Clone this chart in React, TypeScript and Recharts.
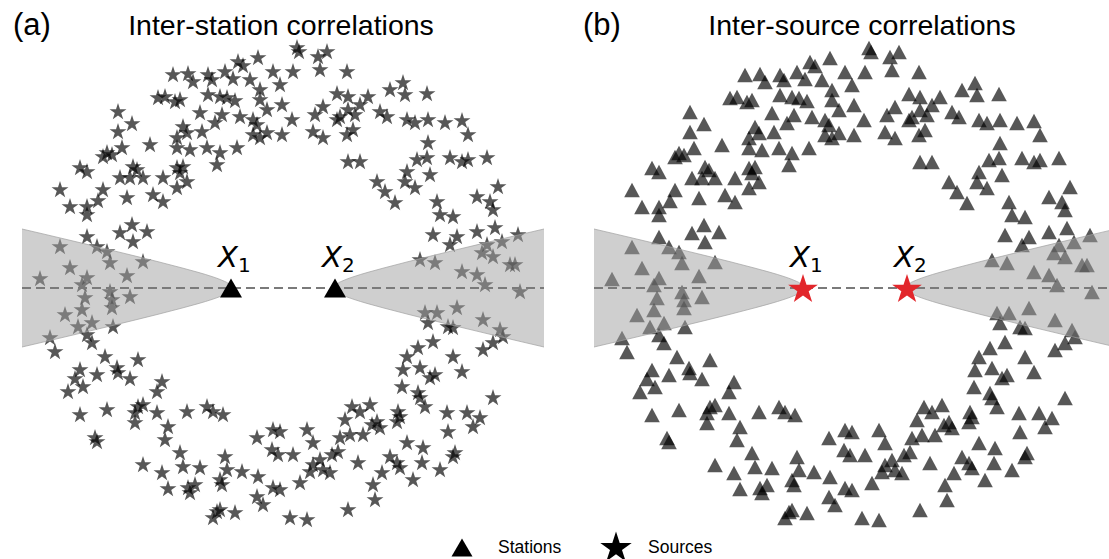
import React from "react";
import { Area, ComposedChart, ReferenceLine, Scatter, XAxis, YAxis } from "recharts";

// Receiver / source ring, split by quadrant. Units: metres from the mid-point of the
// two stations, x east, y north. Both panels share the same geometry.
const ringNW: [number, number][] = [
  [-25, 230], [-45, 226], [-40, 222], [-110, 213], [-95, 214], [-75, 213], [-58, 216],
  [-71, 208], [-50, 209], [-33, 208], [-10, 216], [-90, 206], [-3, 203], [-23, 198],
  [-75, 193], [-63, 191], [-56, 190], [-48, 187], [-125, 190], [-118, 191], [-108, 186],
  [-103, 188], [-23, 188], [-1, 183], [-16, 178], [-165, 176], [-83, 175], [-61, 173],
  [-43, 171], [-30, 168], [-151, 164], [-165, 156], [-100, 161], [-68, 165], [-81, 156],
  [-26, 163], [-30, 153], [-16, 155], [-1, 153], [-23, 150], [-106, 150], [-96, 155],
  [-133, 143], [-76, 140], [-63, 135], [-46, 140], [-106, 140], [-93, 138], [-161, 140],
  [-176, 135], [-180, 131], [-171, 133], [-66, 123], [-203, 120], [-196, 116], [-150, 121],
  [-146, 118], [-163, 110], [-153, 110], [-140, 110], [-120, 110], [-106, 120], [-100, 121],
  [-103, 115], [-96, 106], [-106, 100], [-180, 98], [-223, 98], [-130, 93], [-120, 86],
  [-156, 90], [-213, 81], [-196, 81], [-196, 73], [-185, 87], [-163, 55], [-151, 63],
  [-136, 56], [-150, 46], [-196, 51], [-223, 41], [-186, 41], [-176, 36], [-140, 26],
  [-173, 25], [-213, 20], [-156, 12], [-196, 10], [-243, 9], [-201, 3],
];

const ringNE: [number, number][] = [
  [14, 240], [16, 236], [35, 231], [44, 236], [10, 216], [37, 218], [64, 216], [120, 205],
  [107, 198], [122, 193], [144, 194], [54, 194], [65, 191], [85, 191], [77, 183], [65, 178],
  [40, 181], [9, 168], [32, 173], [54, 168], [57, 171], [72, 173], [97, 176], [104, 171],
  [124, 168], [132, 165], [145, 168], [162, 165], [179, 167], [185, 153], [30, 156],
  [40, 150], [64, 153], [70, 158], [145, 145], [65, 126], [77, 126], [134, 128], [144, 130],
  [167, 130], [179, 126], [185, 128], [204, 130], [124, 116], [122, 106], [147, 113],
  [132, 100], [94, 106], [102, 96], [112, 85], [215, 101], [194, 91], [154, 86], [207, 86],
  [210, 78], [157, 73], [170, 71], [150, 53], [174, 51], [167, 43], [194, 56], [212, 60],
  [235, 53], [204, 43], [219, 46], [199, 35], [210, 31], [137, 28], [152, 25], [179, 16],
  [194, 13], [227, 23], [232, 23], [202, 3],
];

const ringSW: [number, number][] = [
  [-173, -4], [-198, -10], [-153, -9], [-171, -12], [-201, -22], [-218, -27], [-171, -20],
  [-191, -35], [-205, -39], [-170, -39], [-233, -50], [-196, -47], [-191, -55], [-228, -64],
  [-178, -69], [-145, -72], [-203, -82], [-166, -80], [-165, -85], [-186, -87], [-153, -91],
  [-208, -91], [-200, -99], [-215, -104], [-121, -94], [-126, -104], [-145, -119],
  [-140, -117], [-148, -125], [-148, -135], [-126, -125], [-176, -122], [-203, -127],
  [-96, -124], [-76, -119], [-70, -124], [-60, -127], [-115, -139], [-118, -152],
  [-188, -150], [-186, -154], [-103, -165], [-140, -177], [-121, -185], [-100, -179],
  [-83, -180], [-58, -169], [-56, -182], [-41, -184], [-63, -192], [-61, -197], [-115, -201],
  [-95, -200], [-93, -205], [-88, -197], [-26, -150], [-10, -142], [-3, -144], [-11, -162],
  [-5, -167], [-25, -189], [-10, -200], [-3, -202], [-26, -209], [-20, -217], [-48, -225],
  [-66, -224], [-70, -230], [-63, -222],
];

const ringSE: [number, number][] = [
  [237, -4], [142, -25], [154, -25], [174, -20], [145, -35], [165, -39], [170, -40],
  [200, -32], [217, -42], [220, -49], [150, -54], [135, -60], [200, -62], [210, -55],
  [124, -69], [170, -69], [120, -82], [137, -80], [152, -87], [147, -90], [179, -84],
  [119, -99], [135, -105], [137, -110], [142, -119], [210, -110], [69, -119], [87, -117],
  [77, -124], [115, -124], [117, -129], [114, -134], [164, -125], [184, -125], [197, -130],
  [190, -139], [165, -144], [62, -132], [94, -134], [97, -140], [89, -137], [67, -147],
  [80, -147], [57, -150], [24, -142], [30, -155], [124, -155], [140, -160], [172, -165],
  [170, -169], [10, -167], [55, -164], [49, -167], [37, -172], [30, -177], [40, -182],
  [47, -185], [27, -184], [75, -175], [107, -169], [114, -175], [117, -180], [139, -175],
  [157, -182], [130, -192], [99, -185], [90, -197], [92, -212], [17, -195], [65, -222],
  [7, -230], [24, -232],
];

// the two stations on the x axis and their subscripts
const stationX = [-52, 52];
const stationNames = ["1", "2"];

// stationary-phase zone: half-width of the hyperbolic wedge vs. distance from the midpoint
const wedgeDist = [51, 55, 60, 70, 85, 100, 125, 150, 180, 210, 240, 261];
const wedgeHalf = [0, 4.7, 7.3, 11.1, 15.7, 19.8, 26.3, 32.5, 39.8, 47.0, 54.1, 59.0];

const ring = [...ringNW, ...ringNE, ...ringSW, ...ringSE].map(([x, y]) => ({ x, y }));
const stations = stationX.map((x, i) => ({ x, y: 0, label: stationNames[i] }));

const wedgeRows = [
  ...wedgeDist
    .map((d, i) => ({ x: -d, left: [-wedgeHalf[i], wedgeHalf[i]], right: null }))
    .reverse(),
  ...wedgeDist.map((d, i) => ({ x: d, left: null, right: [-wedgeHalf[i], wedgeHalf[i]] })),
];

const X_DOMAIN = [-261, 261];
const Y_DOMAIN = [-250, 250];
const W = 522;
const H = 500;
const MARGIN = { top: 0, right: 0, bottom: 0, left: 0 };

function starPath(cx: number, cy: number, R: number) {
  const r = R * 0.382;
  let d = "";
  for (let i = 0; i < 10; i++) {
    const rad = i % 2 === 0 ? R : r;
    const a = -Math.PI / 2 + (i * Math.PI) / 5;
    d += (i === 0 ? "M" : "L") + (cx + rad * Math.cos(a)).toFixed(2) + "," + (cy + rad * Math.sin(a)).toFixed(2);
  }
  return d + "Z";
}

function triPath(cx: number, cy: number, w: number, h: number) {
  return `M${cx},${cy - h}L${cx + w},${cy + h}L${cx - w},${cy + h}Z`;
}

const SourceStar = (p: any) => <path d={starPath(p.cx, p.cy, 8.9)} fill="#000" fillOpacity={0.66} />;
const StationTri = (p: any) => <path d={triPath(p.cx, p.cy, 7.8, 7.2)} fill="#000" fillOpacity={0.66} />;

function StationLabel({ cx, cy, label }: { cx: number; cy: number; label: string }) {
  return (
    <text x={cx - 13} y={cy - 21} fontFamily="DejaVu Sans" fontSize={29} fill="#000">
      <tspan fontStyle="italic">X</tspan>
      <tspan dy={5} fontSize={20}>{label}</tspan>
    </text>
  );
}

const BigTriangle = (p: any) => (
  <g>
    <path d={triPath(p.cx, p.cy, 11, 9.5)} fill="#000" />
    <StationLabel cx={p.cx} cy={p.cy} label={p.payload.label} />
  </g>
);

const RedStar = (p: any) => (
  <g>
    <path d={starPath(p.cx, p.cy + 1.5, 15.6)} fill="#e2262b" />
    <StationLabel cx={p.cx} cy={p.cy} label={p.payload.label} />
  </g>
);

// ring of markers underneath, wedges / baseline / stations layered on top
function Panel({ left, ringShape, stationShape }: { left: number; ringShape: any; stationShape: any }) {
  const box: React.CSSProperties = { position: "absolute", left, top: 38, width: W, height: H };
  return (
    <>
      <div style={box}>
        <ComposedChart width={W} height={H} data={wedgeRows} margin={MARGIN}>
          <XAxis dataKey="x" type="number" domain={X_DOMAIN} allowDataOverflow hide />
          <YAxis type="number" domain={Y_DOMAIN} allowDataOverflow hide />
          <Scatter data={ring} dataKey="y" shape={ringShape} isAnimationActive={false} />
        </ComposedChart>
      </div>
      <div style={box}>
        <ComposedChart width={W} height={H} data={wedgeRows} margin={MARGIN}>
          <XAxis dataKey="x" type="number" domain={X_DOMAIN} allowDataOverflow hide />
          <YAxis type="number" domain={Y_DOMAIN} allowDataOverflow hide />
          {["left", "right"].map((k) => (
            <Area
              key={k}
              dataKey={k}
              type="monotone"
              fill="#a0a0a0"
              fillOpacity={0.5}
              stroke="#a0a0a0"
              strokeOpacity={0.7}
              strokeWidth={1}
              dot={false}
              activeDot={false}
              isAnimationActive={false}
            />
          ))}
          <ReferenceLine y={0} stroke="#7a7a7a" strokeWidth={2.2} strokeDasharray="9 5" />
          <Scatter data={stations} dataKey="y" shape={stationShape} isAnimationActive={false} />
        </ComposedChart>
      </div>
    </>
  );
}

export default function App() {
  const sans = "'Liberation Sans', Arial, sans-serif";
  return (
    <div style={{ position: "absolute", left: 0, top: 0, width: 1109, height: 559, overflow: "hidden", background: "#fff" }}>
      <Panel left={22} ringShape={SourceStar} stationShape={BigTriangle} />
      <Panel left={594} ringShape={StationTri} stationShape={RedStar} />
      <svg width={1109} height={559} style={{ position: "absolute", left: 0, top: 0, pointerEvents: "none" }}>
        <g fontFamily={sans} fill="#000">
          <text x={13} y={35} fontSize={31}>(a)</text>
          <text x={281} y={35} fontSize={28.5} textAnchor="middle">Inter-station correlations</text>
          <text x={583} y={35} fontSize={31}>(b)</text>
          <text x={862} y={35} fontSize={28.5} textAnchor="middle">Inter-source correlations</text>
          <path d={triPath(462, 547.5, 10.5, 9)} />
          <text x={498} y={553} fontSize={17.5}>Stations</text>
          <path d={starPath(616, 548, 16.5)} />
          <text x={648} y={553} fontSize={17.5}>Sources</text>
        </g>
      </svg>
    </div>
  );
}
